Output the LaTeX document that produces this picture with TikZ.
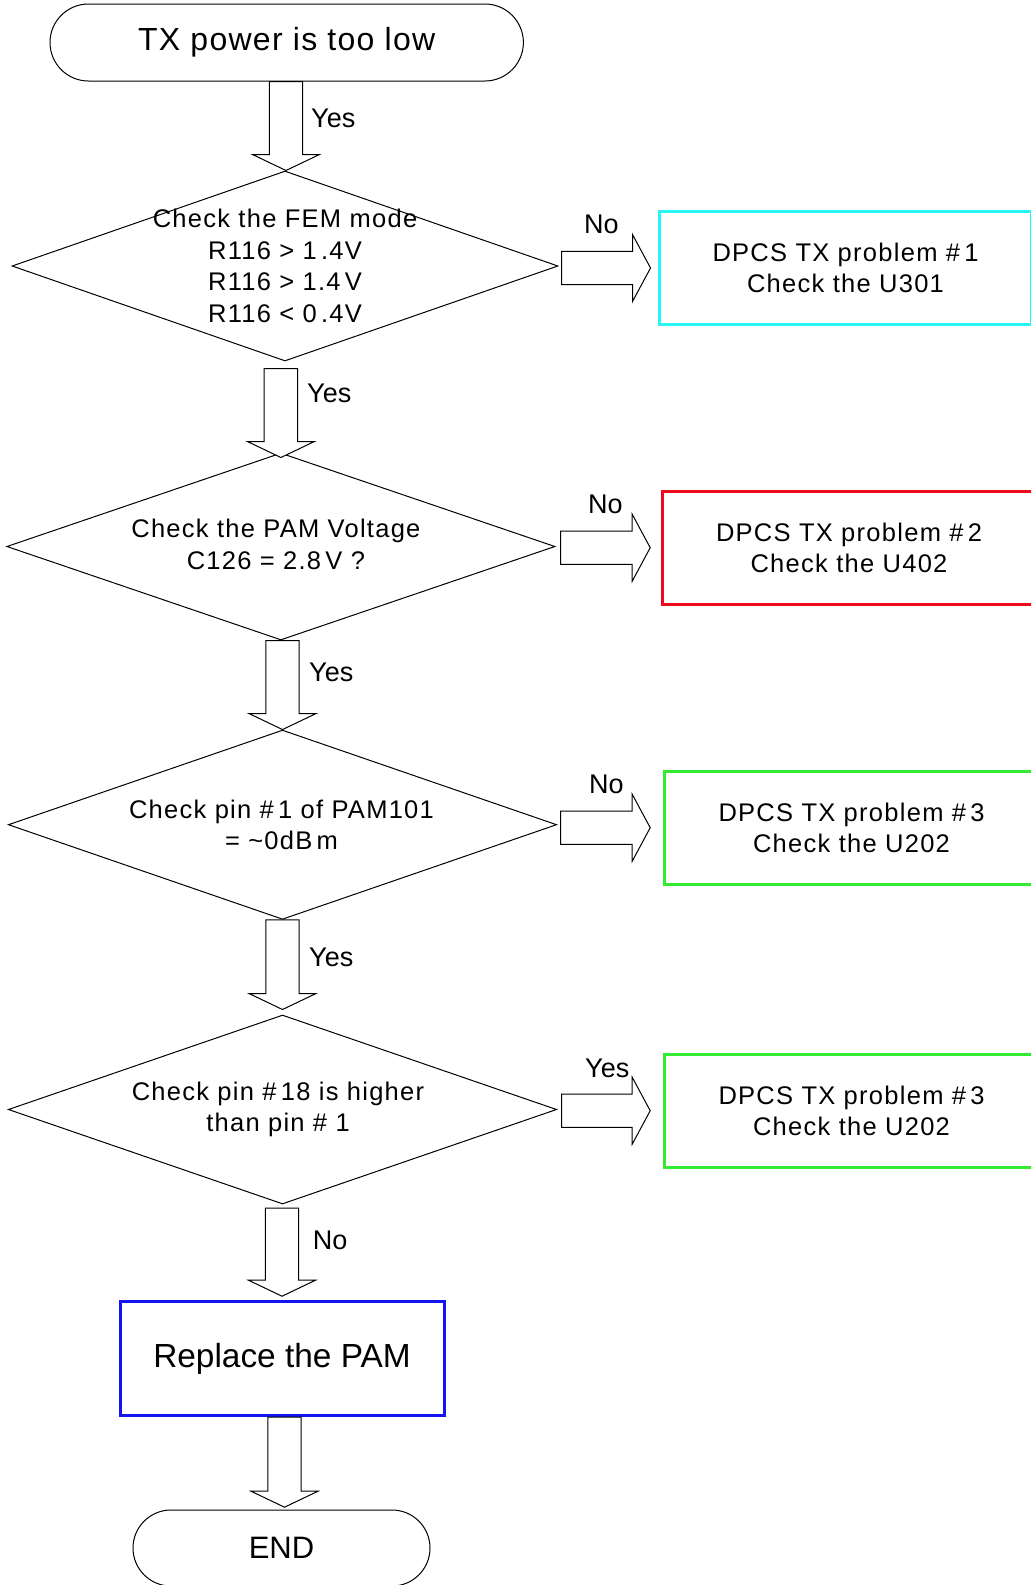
\documentclass[tikz,border=0pt]{standalone}
\usepackage{fontspec}
\setmainfont{Liberation Sans}
\usetikzlibrary{shapes.geometric,shapes.misc,calc}
\definecolor{cyanbox}{RGB}{40,245,245}
\definecolor{redbox}{RGB}{240,10,30}
\definecolor{greenbox}{RGB}{50,235,50}
\definecolor{bluebox}{RGB}{20,20,240}
\newcommand\dfont{\fontsize{25.5}{31.6}\selectfont\addfontfeatures{LetterSpace=5}}
\newcommand\tfont{\fontsize{32}{37}\selectfont\addfontfeatures{LetterSpace=4}}
\newcommand\blkdown[2]{\draw[blk] let \p1=(#1), \p2=(#2) in
  (\x2-16.7pt,\y1) -- (\x2+16.7pt,\y1) -- (\x2+16.7pt,\y2+16pt) -- (\x2+33.5pt,\y2+16pt)
  -- (\x2,\y2) -- (\x2-33.5pt,\y2+16pt) -- (\x2-16.7pt,\y2+16pt) -- cycle;}
\newcommand\blkright[2]{\draw[blk] let \p1=(#1), \p2=(#2) in
  (\x1,\y2+16.7pt) -- (\x2-18pt,\y2+16.7pt) -- (\x2-18pt,\y2+33.5pt) -- (\x2,\y2)
  -- (\x2-18pt,\y2-33.5pt) -- (\x2-18pt,\y2-16.7pt) -- (\x1,\y2-16.7pt) -- cycle;}
\begin{document}
\begin{tikzpicture}[x=1pt,y=-1pt,
  term/.style={draw, rounded rectangle, inner sep=0pt, line width=1pt},
  dia/.style={draw, diamond, inner sep=0pt, line width=1pt},
  dtxt/.style={align=center, font=\dfont, inner sep=0pt},
  probbox/.style={draw, rectangle, line width=3pt, inner sep=0pt, align=center, font=\dfont},
  lbl/.style={anchor=base west, inner sep=0pt, font=\fontsize{27}{32}\selectfont},
  blk/.style={draw, line width=1pt, fill=white, line join=miter}]
\useasboundingbox (0,0) rectangle (1031,1585);
\fill[white] (0,0) rectangle (1031,1585);
\clip (0,0) rectangle (1031,1585);

% start / end
\node[term, minimum width=473.4pt, minimum height=77pt, font=\tfont] (start) at (286.7,42.5) {TX power is too low};

% decisions
\node[dia, minimum width=546pt, minimum height=190pt] (d1) at (285,266) {};
\node[dtxt] (d1t) at (d1) {Check the FEM mode\\R116 > 1\,.4V\\R116 > 1.4\,V\\R116 < 0\,.4V};

\node[dia, minimum width=548.3pt, minimum height=187pt] (d2) at (280.9,546.5) {};
\node[dtxt] (d2t) at ($(d2)+(-5,-2)$) {Check the PAM Voltage\\C126 = 2.8\,V ?};

\node[dia, minimum width=548.4pt, minimum height=189.3pt] (d3) at (282.5,824.7) {};
\node[dtxt] (d3t) at ($(d3)+(-1,0)$) {Check pin \#\,1 of PAM101\\= \textasciitilde 0dB\,m};

\node[dia, minimum width=548.4pt, minimum height=189pt] (d4) at (282.5,1109.5) {};
\node[dtxt] (d4t) at ($(d4)+(-4.5,0)$) {Check pin \#\,18 is higher\\than pin \# 1};

% problem boxes
\node[probbox, draw=cyanbox, minimum width=372.4pt, minimum height=112.6pt] (b1) at (845.5,268) {DPCS TX problem \#\,1\\Check the U301};
\node[probbox, draw=redbox, minimum width=372.6pt, minimum height=113.3pt] (b2) at (849,547.7) {DPCS TX problem \#\,2\\Check the U402};
\node[probbox, draw=greenbox, minimum width=375pt, minimum height=113.3pt] (b3) at (851.5,827.7) {DPCS TX problem \#\,3\\Check the U202};
\node[probbox, draw=greenbox, minimum width=375pt, minimum height=112.7pt] (b4) at (851.5,1110.7) {DPCS TX problem \#\,3\\Check the U202};

% replace / end
\node[draw=bluebox, rectangle, line width=3pt, minimum width=324pt, minimum height=114pt, font=\fontsize{33.4}{38}\selectfont] (rep) at (282,1358.7) {Replace the PAM};
\node[term, minimum width=297pt, minimum height=76pt, font=\fontsize{31}{36}\selectfont] (fin) at (281.5,1548) {END};

% block arrows down
\blkdown{start.south}{$(d1.north)+(1,0)$}
\blkdown{$(d1.south)+(0,7)$}{$(d2.north)+(0,5)$}
\blkdown{d2.south}{d3.north}
\blkdown{d3.south}{$(d4.north)+(0,-5)$}
\blkdown{$(d4.south)+(0,3.7)$}{$(rep.north)+(0,-4)$}
\blkdown{rep.south}{$(fin.north)+(3,-2.3)$}

% block arrows right
\blkright{$(d1.east)+(3,0)$}{$(b1.west)+(-7.3,0)$}
\blkright{$(d2.east)+(5,0)$}{$(b2.west)+(-11,0)$}
\blkright{$(d3.east)+(3.3,0)$}{$(b3.west)+(-12.3,0)$}
\blkright{$(d4.east)+(4.3,0)$}{$(b4.west)+(-12.3,0)$}

% labels
\node[lbl] (l1) at (311,127.4) {Yes};
\node[lbl] (l2) at (307,402.7) {Yes};
\node[lbl] (l3) at (309,681.7) {Yes};
\node[lbl] (l4) at (309,966) {Yes};
\node[lbl] (l5) at (312.7,1249.3) {No};
\node[lbl] (r1) at (584,233.3) {No};
\node[lbl] (r2) at (588,513.3) {No};
\node[lbl] (r3) at (589,793.3) {No};
\node[lbl] (r4) at (585,1077) {Yes};
\end{tikzpicture}
\end{document}
